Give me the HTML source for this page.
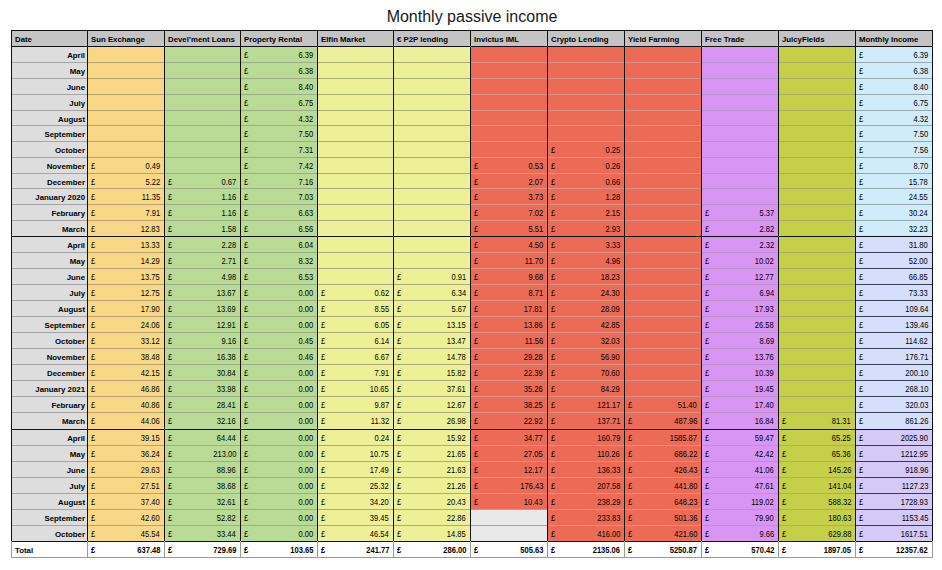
<!DOCTYPE html><html><head><meta charset="utf-8"><title>Monthly passive income</title><style>
html,body{margin:0;padding:0;background:#fff;}
body{width:942px;height:570px;position:relative;overflow:hidden;font-family:"Liberation Sans",Arial,Helvetica,sans-serif;}
.t{position:absolute;left:0;top:7px;width:944px;text-align:center;font-size:16px;color:#1a1a1a;line-height:20px;}
.c{position:absolute;box-sizing:border-box;}
.h{position:absolute;height:1px;}
.v{position:absolute;width:1px;}
.tx{position:absolute;font-size:7.8px;line-height:10px;white-space:nowrap;color:#000;}
.b{font-weight:bold;}
.m{font-size:7.85px;}
.n{font-size:8.3px;transform:scaleX(0.91);transform-origin:100% 50%;margin-top:-1px;}
.p{font-size:8.3px;transform:scaleX(0.91);transform-origin:0 50%;margin-top:-1px;}

</style></head><body>
<div class="t">Monthly passive income</div>
<div class="c" style="left:11px;top:30px;width:922px;height:16px;background:#c4c4c4"></div>
<div class="c" style="left:11px;top:46px;width:76px;height:495px;background:#dddddd"></div>
<div class="c" style="left:87px;top:46px;width:77px;height:495px;background:#f8d786"></div>
<div class="c" style="left:164px;top:46px;width:76px;height:495px;background:#badb96"></div>
<div class="c" style="left:240px;top:46px;width:77px;height:495px;background:#badb96"></div>
<div class="c" style="left:317px;top:46px;width:76px;height:495px;background:#edf096"></div>
<div class="c" style="left:393px;top:46px;width:77px;height:495px;background:#edf096"></div>
<div class="c" style="left:470px;top:46px;width:77px;height:495px;background:#eb6b56"></div>
<div class="c" style="left:547px;top:46px;width:77px;height:495px;background:#eb6b56"></div>
<div class="c" style="left:624px;top:46px;width:77px;height:495px;background:#eb6b56"></div>
<div class="c" style="left:701px;top:46px;width:77px;height:495px;background:#d895f4"></div>
<div class="c" style="left:778px;top:46px;width:77px;height:495px;background:#c6cf4a"></div>
<div class="c" style="left:855px;top:46px;width:77px;height:190px;background:#d0ebfa"></div>
<div class="c" style="left:855px;top:236px;width:77px;height:193px;background:#d5defa"></div>
<div class="c" style="left:855px;top:429px;width:77px;height:112px;background:#d5c9f8"></div>
<div class="c" style="left:470px;top:509px;width:77px;height:32px;background:#e9e9e9"></div>
<div class="h" style="left:11px;top:62px;width:76px;background:#a5a5a5"></div>
<div class="h" style="left:87px;top:62px;width:77px;background:#b8a574"></div>
<div class="h" style="left:164px;top:62px;width:76px;background:#9cb086"></div>
<div class="h" style="left:240px;top:62px;width:77px;background:#9cb086"></div>
<div class="h" style="left:317px;top:62px;width:76px;background:#aaac76"></div>
<div class="h" style="left:393px;top:62px;width:77px;background:#aaac76"></div>
<div class="h" style="left:470px;top:62px;width:77px;background:#dc8f83"></div>
<div class="h" style="left:547px;top:62px;width:77px;background:#dc8f83"></div>
<div class="h" style="left:624px;top:62px;width:77px;background:#dc8f83"></div>
<div class="h" style="left:701px;top:62px;width:77px;background:#bb92cb"></div>
<div class="h" style="left:778px;top:62px;width:77px;background:#aab060"></div>
<div class="h" style="left:855px;top:62px;width:77px;background:#99a9b2"></div>
<div class="h" style="left:11px;top:78px;width:76px;background:#a5a5a5"></div>
<div class="h" style="left:87px;top:78px;width:77px;background:#b8a574"></div>
<div class="h" style="left:164px;top:78px;width:76px;background:#9cb086"></div>
<div class="h" style="left:240px;top:78px;width:77px;background:#9cb086"></div>
<div class="h" style="left:317px;top:78px;width:76px;background:#aaac76"></div>
<div class="h" style="left:393px;top:78px;width:77px;background:#aaac76"></div>
<div class="h" style="left:470px;top:78px;width:77px;background:#dc8f83"></div>
<div class="h" style="left:547px;top:78px;width:77px;background:#dc8f83"></div>
<div class="h" style="left:624px;top:78px;width:77px;background:#dc8f83"></div>
<div class="h" style="left:701px;top:78px;width:77px;background:#bb92cb"></div>
<div class="h" style="left:778px;top:78px;width:77px;background:#aab060"></div>
<div class="h" style="left:855px;top:78px;width:77px;background:#99a9b2"></div>
<div class="h" style="left:11px;top:94px;width:76px;background:#a5a5a5"></div>
<div class="h" style="left:87px;top:94px;width:77px;background:#b8a574"></div>
<div class="h" style="left:164px;top:94px;width:76px;background:#9cb086"></div>
<div class="h" style="left:240px;top:94px;width:77px;background:#9cb086"></div>
<div class="h" style="left:317px;top:94px;width:76px;background:#aaac76"></div>
<div class="h" style="left:393px;top:94px;width:77px;background:#aaac76"></div>
<div class="h" style="left:470px;top:94px;width:77px;background:#dc8f83"></div>
<div class="h" style="left:547px;top:94px;width:77px;background:#dc8f83"></div>
<div class="h" style="left:624px;top:94px;width:77px;background:#dc8f83"></div>
<div class="h" style="left:701px;top:94px;width:77px;background:#bb92cb"></div>
<div class="h" style="left:778px;top:94px;width:77px;background:#aab060"></div>
<div class="h" style="left:855px;top:94px;width:77px;background:#99a9b2"></div>
<div class="h" style="left:11px;top:110px;width:76px;background:#a5a5a5"></div>
<div class="h" style="left:87px;top:110px;width:77px;background:#b8a574"></div>
<div class="h" style="left:164px;top:110px;width:76px;background:#9cb086"></div>
<div class="h" style="left:240px;top:110px;width:77px;background:#9cb086"></div>
<div class="h" style="left:317px;top:110px;width:76px;background:#aaac76"></div>
<div class="h" style="left:393px;top:110px;width:77px;background:#aaac76"></div>
<div class="h" style="left:470px;top:110px;width:77px;background:#dc8f83"></div>
<div class="h" style="left:547px;top:110px;width:77px;background:#dc8f83"></div>
<div class="h" style="left:624px;top:110px;width:77px;background:#dc8f83"></div>
<div class="h" style="left:701px;top:110px;width:77px;background:#bb92cb"></div>
<div class="h" style="left:778px;top:110px;width:77px;background:#aab060"></div>
<div class="h" style="left:855px;top:110px;width:77px;background:#99a9b2"></div>
<div class="h" style="left:11px;top:125px;width:76px;background:#a5a5a5"></div>
<div class="h" style="left:87px;top:125px;width:77px;background:#b8a574"></div>
<div class="h" style="left:164px;top:125px;width:76px;background:#9cb086"></div>
<div class="h" style="left:240px;top:125px;width:77px;background:#9cb086"></div>
<div class="h" style="left:317px;top:125px;width:76px;background:#aaac76"></div>
<div class="h" style="left:393px;top:125px;width:77px;background:#aaac76"></div>
<div class="h" style="left:470px;top:125px;width:77px;background:#dc8f83"></div>
<div class="h" style="left:547px;top:125px;width:77px;background:#dc8f83"></div>
<div class="h" style="left:624px;top:125px;width:77px;background:#dc8f83"></div>
<div class="h" style="left:701px;top:125px;width:77px;background:#bb92cb"></div>
<div class="h" style="left:778px;top:125px;width:77px;background:#aab060"></div>
<div class="h" style="left:855px;top:125px;width:77px;background:#99a9b2"></div>
<div class="h" style="left:11px;top:141px;width:76px;background:#a5a5a5"></div>
<div class="h" style="left:87px;top:141px;width:77px;background:#b8a574"></div>
<div class="h" style="left:164px;top:141px;width:76px;background:#9cb086"></div>
<div class="h" style="left:240px;top:141px;width:77px;background:#9cb086"></div>
<div class="h" style="left:317px;top:141px;width:76px;background:#aaac76"></div>
<div class="h" style="left:393px;top:141px;width:77px;background:#aaac76"></div>
<div class="h" style="left:470px;top:141px;width:77px;background:#dc8f83"></div>
<div class="h" style="left:547px;top:141px;width:77px;background:#dc8f83"></div>
<div class="h" style="left:624px;top:141px;width:77px;background:#dc8f83"></div>
<div class="h" style="left:701px;top:141px;width:77px;background:#bb92cb"></div>
<div class="h" style="left:778px;top:141px;width:77px;background:#aab060"></div>
<div class="h" style="left:855px;top:141px;width:77px;background:#99a9b2"></div>
<div class="h" style="left:11px;top:157px;width:76px;background:#a5a5a5"></div>
<div class="h" style="left:87px;top:157px;width:77px;background:#b8a574"></div>
<div class="h" style="left:164px;top:157px;width:76px;background:#9cb086"></div>
<div class="h" style="left:240px;top:157px;width:77px;background:#9cb086"></div>
<div class="h" style="left:317px;top:157px;width:76px;background:#aaac76"></div>
<div class="h" style="left:393px;top:157px;width:77px;background:#aaac76"></div>
<div class="h" style="left:470px;top:157px;width:77px;background:#dc8f83"></div>
<div class="h" style="left:547px;top:157px;width:77px;background:#dc8f83"></div>
<div class="h" style="left:624px;top:157px;width:77px;background:#dc8f83"></div>
<div class="h" style="left:701px;top:157px;width:77px;background:#bb92cb"></div>
<div class="h" style="left:778px;top:157px;width:77px;background:#aab060"></div>
<div class="h" style="left:855px;top:157px;width:77px;background:#99a9b2"></div>
<div class="h" style="left:11px;top:173px;width:76px;background:#a5a5a5"></div>
<div class="h" style="left:87px;top:173px;width:77px;background:#b8a574"></div>
<div class="h" style="left:164px;top:173px;width:76px;background:#9cb086"></div>
<div class="h" style="left:240px;top:173px;width:77px;background:#9cb086"></div>
<div class="h" style="left:317px;top:173px;width:76px;background:#aaac76"></div>
<div class="h" style="left:393px;top:173px;width:77px;background:#aaac76"></div>
<div class="h" style="left:470px;top:173px;width:77px;background:#dc8f83"></div>
<div class="h" style="left:547px;top:173px;width:77px;background:#dc8f83"></div>
<div class="h" style="left:624px;top:173px;width:77px;background:#dc8f83"></div>
<div class="h" style="left:701px;top:173px;width:77px;background:#bb92cb"></div>
<div class="h" style="left:778px;top:173px;width:77px;background:#aab060"></div>
<div class="h" style="left:855px;top:173px;width:77px;background:#99a9b2"></div>
<div class="h" style="left:11px;top:188px;width:76px;background:#a5a5a5"></div>
<div class="h" style="left:87px;top:188px;width:77px;background:#b8a574"></div>
<div class="h" style="left:164px;top:188px;width:76px;background:#9cb086"></div>
<div class="h" style="left:240px;top:188px;width:77px;background:#9cb086"></div>
<div class="h" style="left:317px;top:188px;width:76px;background:#aaac76"></div>
<div class="h" style="left:393px;top:188px;width:77px;background:#aaac76"></div>
<div class="h" style="left:470px;top:188px;width:77px;background:#dc8f83"></div>
<div class="h" style="left:547px;top:188px;width:77px;background:#dc8f83"></div>
<div class="h" style="left:624px;top:188px;width:77px;background:#dc8f83"></div>
<div class="h" style="left:701px;top:188px;width:77px;background:#bb92cb"></div>
<div class="h" style="left:778px;top:188px;width:77px;background:#aab060"></div>
<div class="h" style="left:855px;top:188px;width:77px;background:#99a9b2"></div>
<div class="h" style="left:11px;top:204px;width:76px;background:#a5a5a5"></div>
<div class="h" style="left:87px;top:204px;width:77px;background:#b8a574"></div>
<div class="h" style="left:164px;top:204px;width:76px;background:#9cb086"></div>
<div class="h" style="left:240px;top:204px;width:77px;background:#9cb086"></div>
<div class="h" style="left:317px;top:204px;width:76px;background:#aaac76"></div>
<div class="h" style="left:393px;top:204px;width:77px;background:#aaac76"></div>
<div class="h" style="left:470px;top:204px;width:77px;background:#dc8f83"></div>
<div class="h" style="left:547px;top:204px;width:77px;background:#dc8f83"></div>
<div class="h" style="left:624px;top:204px;width:77px;background:#dc8f83"></div>
<div class="h" style="left:701px;top:204px;width:77px;background:#bb92cb"></div>
<div class="h" style="left:778px;top:204px;width:77px;background:#aab060"></div>
<div class="h" style="left:855px;top:204px;width:77px;background:#99a9b2"></div>
<div class="h" style="left:11px;top:220px;width:76px;background:#a5a5a5"></div>
<div class="h" style="left:87px;top:220px;width:77px;background:#b8a574"></div>
<div class="h" style="left:164px;top:220px;width:76px;background:#9cb086"></div>
<div class="h" style="left:240px;top:220px;width:77px;background:#9cb086"></div>
<div class="h" style="left:317px;top:220px;width:76px;background:#aaac76"></div>
<div class="h" style="left:393px;top:220px;width:77px;background:#aaac76"></div>
<div class="h" style="left:470px;top:220px;width:77px;background:#dc8f83"></div>
<div class="h" style="left:547px;top:220px;width:77px;background:#dc8f83"></div>
<div class="h" style="left:624px;top:220px;width:77px;background:#dc8f83"></div>
<div class="h" style="left:701px;top:220px;width:77px;background:#bb92cb"></div>
<div class="h" style="left:778px;top:220px;width:77px;background:#aab060"></div>
<div class="h" style="left:855px;top:220px;width:77px;background:#99a9b2"></div>
<div class="h" style="left:11px;top:252px;width:76px;background:#a5a5a5"></div>
<div class="h" style="left:87px;top:252px;width:77px;background:#b8a574"></div>
<div class="h" style="left:164px;top:252px;width:76px;background:#9cb086"></div>
<div class="h" style="left:240px;top:252px;width:77px;background:#9cb086"></div>
<div class="h" style="left:317px;top:252px;width:76px;background:#aaac76"></div>
<div class="h" style="left:393px;top:252px;width:77px;background:#aaac76"></div>
<div class="h" style="left:470px;top:252px;width:77px;background:#dc8f83"></div>
<div class="h" style="left:547px;top:252px;width:77px;background:#dc8f83"></div>
<div class="h" style="left:624px;top:252px;width:77px;background:#dc8f83"></div>
<div class="h" style="left:701px;top:252px;width:77px;background:#bb92cb"></div>
<div class="h" style="left:778px;top:252px;width:77px;background:#aab060"></div>
<div class="h" style="left:855px;top:252px;width:77px;background:#383f52"></div>
<div class="h" style="left:11px;top:268px;width:76px;background:#a5a5a5"></div>
<div class="h" style="left:87px;top:268px;width:77px;background:#b8a574"></div>
<div class="h" style="left:164px;top:268px;width:76px;background:#9cb086"></div>
<div class="h" style="left:240px;top:268px;width:77px;background:#9cb086"></div>
<div class="h" style="left:317px;top:268px;width:76px;background:#aaac76"></div>
<div class="h" style="left:393px;top:268px;width:77px;background:#aaac76"></div>
<div class="h" style="left:470px;top:268px;width:77px;background:#dc8f83"></div>
<div class="h" style="left:547px;top:268px;width:77px;background:#dc8f83"></div>
<div class="h" style="left:624px;top:268px;width:77px;background:#dc8f83"></div>
<div class="h" style="left:701px;top:268px;width:77px;background:#bb92cb"></div>
<div class="h" style="left:778px;top:268px;width:77px;background:#aab060"></div>
<div class="h" style="left:855px;top:268px;width:77px;background:#383f52"></div>
<div class="h" style="left:11px;top:284px;width:76px;background:#a5a5a5"></div>
<div class="h" style="left:87px;top:284px;width:77px;background:#b8a574"></div>
<div class="h" style="left:164px;top:284px;width:76px;background:#9cb086"></div>
<div class="h" style="left:240px;top:284px;width:77px;background:#9cb086"></div>
<div class="h" style="left:317px;top:284px;width:76px;background:#aaac76"></div>
<div class="h" style="left:393px;top:284px;width:77px;background:#aaac76"></div>
<div class="h" style="left:470px;top:284px;width:77px;background:#dc8f83"></div>
<div class="h" style="left:547px;top:284px;width:77px;background:#dc8f83"></div>
<div class="h" style="left:624px;top:284px;width:77px;background:#dc8f83"></div>
<div class="h" style="left:701px;top:284px;width:77px;background:#bb92cb"></div>
<div class="h" style="left:778px;top:284px;width:77px;background:#aab060"></div>
<div class="h" style="left:855px;top:284px;width:77px;background:#383f52"></div>
<div class="h" style="left:11px;top:300px;width:76px;background:#a5a5a5"></div>
<div class="h" style="left:87px;top:300px;width:77px;background:#b8a574"></div>
<div class="h" style="left:164px;top:300px;width:76px;background:#9cb086"></div>
<div class="h" style="left:240px;top:300px;width:77px;background:#9cb086"></div>
<div class="h" style="left:317px;top:300px;width:76px;background:#aaac76"></div>
<div class="h" style="left:393px;top:300px;width:77px;background:#aaac76"></div>
<div class="h" style="left:470px;top:300px;width:77px;background:#dc8f83"></div>
<div class="h" style="left:547px;top:300px;width:77px;background:#dc8f83"></div>
<div class="h" style="left:624px;top:300px;width:77px;background:#dc8f83"></div>
<div class="h" style="left:701px;top:300px;width:77px;background:#bb92cb"></div>
<div class="h" style="left:778px;top:300px;width:77px;background:#aab060"></div>
<div class="h" style="left:855px;top:300px;width:77px;background:#383f52"></div>
<div class="h" style="left:11px;top:316px;width:76px;background:#a5a5a5"></div>
<div class="h" style="left:87px;top:316px;width:77px;background:#b8a574"></div>
<div class="h" style="left:164px;top:316px;width:76px;background:#9cb086"></div>
<div class="h" style="left:240px;top:316px;width:77px;background:#9cb086"></div>
<div class="h" style="left:317px;top:316px;width:76px;background:#aaac76"></div>
<div class="h" style="left:393px;top:316px;width:77px;background:#aaac76"></div>
<div class="h" style="left:470px;top:316px;width:77px;background:#dc8f83"></div>
<div class="h" style="left:547px;top:316px;width:77px;background:#dc8f83"></div>
<div class="h" style="left:624px;top:316px;width:77px;background:#dc8f83"></div>
<div class="h" style="left:701px;top:316px;width:77px;background:#bb92cb"></div>
<div class="h" style="left:778px;top:316px;width:77px;background:#aab060"></div>
<div class="h" style="left:855px;top:316px;width:77px;background:#383f52"></div>
<div class="h" style="left:11px;top:332px;width:76px;background:#a5a5a5"></div>
<div class="h" style="left:87px;top:332px;width:77px;background:#b8a574"></div>
<div class="h" style="left:164px;top:332px;width:76px;background:#9cb086"></div>
<div class="h" style="left:240px;top:332px;width:77px;background:#9cb086"></div>
<div class="h" style="left:317px;top:332px;width:76px;background:#aaac76"></div>
<div class="h" style="left:393px;top:332px;width:77px;background:#aaac76"></div>
<div class="h" style="left:470px;top:332px;width:77px;background:#dc8f83"></div>
<div class="h" style="left:547px;top:332px;width:77px;background:#dc8f83"></div>
<div class="h" style="left:624px;top:332px;width:77px;background:#dc8f83"></div>
<div class="h" style="left:701px;top:332px;width:77px;background:#bb92cb"></div>
<div class="h" style="left:778px;top:332px;width:77px;background:#aab060"></div>
<div class="h" style="left:855px;top:332px;width:77px;background:#383f52"></div>
<div class="h" style="left:11px;top:348px;width:76px;background:#a5a5a5"></div>
<div class="h" style="left:87px;top:348px;width:77px;background:#b8a574"></div>
<div class="h" style="left:164px;top:348px;width:76px;background:#9cb086"></div>
<div class="h" style="left:240px;top:348px;width:77px;background:#9cb086"></div>
<div class="h" style="left:317px;top:348px;width:76px;background:#aaac76"></div>
<div class="h" style="left:393px;top:348px;width:77px;background:#aaac76"></div>
<div class="h" style="left:470px;top:348px;width:77px;background:#dc8f83"></div>
<div class="h" style="left:547px;top:348px;width:77px;background:#dc8f83"></div>
<div class="h" style="left:624px;top:348px;width:77px;background:#dc8f83"></div>
<div class="h" style="left:701px;top:348px;width:77px;background:#bb92cb"></div>
<div class="h" style="left:778px;top:348px;width:77px;background:#aab060"></div>
<div class="h" style="left:855px;top:348px;width:77px;background:#383f52"></div>
<div class="h" style="left:11px;top:364px;width:76px;background:#a5a5a5"></div>
<div class="h" style="left:87px;top:364px;width:77px;background:#b8a574"></div>
<div class="h" style="left:164px;top:364px;width:76px;background:#9cb086"></div>
<div class="h" style="left:240px;top:364px;width:77px;background:#9cb086"></div>
<div class="h" style="left:317px;top:364px;width:76px;background:#aaac76"></div>
<div class="h" style="left:393px;top:364px;width:77px;background:#aaac76"></div>
<div class="h" style="left:470px;top:364px;width:77px;background:#dc8f83"></div>
<div class="h" style="left:547px;top:364px;width:77px;background:#dc8f83"></div>
<div class="h" style="left:624px;top:364px;width:77px;background:#dc8f83"></div>
<div class="h" style="left:701px;top:364px;width:77px;background:#bb92cb"></div>
<div class="h" style="left:778px;top:364px;width:77px;background:#aab060"></div>
<div class="h" style="left:855px;top:364px;width:77px;background:#383f52"></div>
<div class="h" style="left:11px;top:380px;width:76px;background:#a5a5a5"></div>
<div class="h" style="left:87px;top:380px;width:77px;background:#b8a574"></div>
<div class="h" style="left:164px;top:380px;width:76px;background:#9cb086"></div>
<div class="h" style="left:240px;top:380px;width:77px;background:#9cb086"></div>
<div class="h" style="left:317px;top:380px;width:76px;background:#aaac76"></div>
<div class="h" style="left:393px;top:380px;width:77px;background:#aaac76"></div>
<div class="h" style="left:470px;top:380px;width:77px;background:#dc8f83"></div>
<div class="h" style="left:547px;top:380px;width:77px;background:#dc8f83"></div>
<div class="h" style="left:624px;top:380px;width:77px;background:#dc8f83"></div>
<div class="h" style="left:701px;top:380px;width:77px;background:#bb92cb"></div>
<div class="h" style="left:778px;top:380px;width:77px;background:#aab060"></div>
<div class="h" style="left:855px;top:380px;width:77px;background:#383f52"></div>
<div class="h" style="left:11px;top:396px;width:76px;background:#a5a5a5"></div>
<div class="h" style="left:87px;top:396px;width:77px;background:#b8a574"></div>
<div class="h" style="left:164px;top:396px;width:76px;background:#9cb086"></div>
<div class="h" style="left:240px;top:396px;width:77px;background:#9cb086"></div>
<div class="h" style="left:317px;top:396px;width:76px;background:#aaac76"></div>
<div class="h" style="left:393px;top:396px;width:77px;background:#aaac76"></div>
<div class="h" style="left:470px;top:396px;width:77px;background:#dc8f83"></div>
<div class="h" style="left:547px;top:396px;width:77px;background:#dc8f83"></div>
<div class="h" style="left:624px;top:396px;width:77px;background:#dc8f83"></div>
<div class="h" style="left:701px;top:396px;width:77px;background:#bb92cb"></div>
<div class="h" style="left:778px;top:396px;width:77px;background:#aab060"></div>
<div class="h" style="left:855px;top:396px;width:77px;background:#383f52"></div>
<div class="h" style="left:11px;top:412px;width:76px;background:#a5a5a5"></div>
<div class="h" style="left:87px;top:412px;width:77px;background:#b8a574"></div>
<div class="h" style="left:164px;top:412px;width:76px;background:#9cb086"></div>
<div class="h" style="left:240px;top:412px;width:77px;background:#9cb086"></div>
<div class="h" style="left:317px;top:412px;width:76px;background:#aaac76"></div>
<div class="h" style="left:393px;top:412px;width:77px;background:#aaac76"></div>
<div class="h" style="left:470px;top:412px;width:77px;background:#dc8f83"></div>
<div class="h" style="left:547px;top:412px;width:77px;background:#dc8f83"></div>
<div class="h" style="left:624px;top:412px;width:77px;background:#dc8f83"></div>
<div class="h" style="left:701px;top:412px;width:77px;background:#bb92cb"></div>
<div class="h" style="left:778px;top:412px;width:77px;background:#aab060"></div>
<div class="h" style="left:855px;top:412px;width:77px;background:#383f52"></div>
<div class="h" style="left:11px;top:445px;width:76px;background:#a5a5a5"></div>
<div class="h" style="left:87px;top:445px;width:77px;background:#b8a574"></div>
<div class="h" style="left:164px;top:445px;width:76px;background:#9cb086"></div>
<div class="h" style="left:240px;top:445px;width:77px;background:#9cb086"></div>
<div class="h" style="left:317px;top:445px;width:76px;background:#aaac76"></div>
<div class="h" style="left:393px;top:445px;width:77px;background:#aaac76"></div>
<div class="h" style="left:470px;top:445px;width:77px;background:#dc8f83"></div>
<div class="h" style="left:547px;top:445px;width:77px;background:#dc8f83"></div>
<div class="h" style="left:624px;top:445px;width:77px;background:#dc8f83"></div>
<div class="h" style="left:701px;top:445px;width:77px;background:#bb92cb"></div>
<div class="h" style="left:778px;top:445px;width:77px;background:#aab060"></div>
<div class="h" style="left:855px;top:445px;width:77px;background:#403658"></div>
<div class="h" style="left:11px;top:461px;width:76px;background:#a5a5a5"></div>
<div class="h" style="left:87px;top:461px;width:77px;background:#b8a574"></div>
<div class="h" style="left:164px;top:461px;width:76px;background:#9cb086"></div>
<div class="h" style="left:240px;top:461px;width:77px;background:#9cb086"></div>
<div class="h" style="left:317px;top:461px;width:76px;background:#aaac76"></div>
<div class="h" style="left:393px;top:461px;width:77px;background:#aaac76"></div>
<div class="h" style="left:470px;top:461px;width:77px;background:#dc8f83"></div>
<div class="h" style="left:547px;top:461px;width:77px;background:#dc8f83"></div>
<div class="h" style="left:624px;top:461px;width:77px;background:#dc8f83"></div>
<div class="h" style="left:701px;top:461px;width:77px;background:#bb92cb"></div>
<div class="h" style="left:778px;top:461px;width:77px;background:#aab060"></div>
<div class="h" style="left:855px;top:461px;width:77px;background:#403658"></div>
<div class="h" style="left:11px;top:477px;width:76px;background:#a5a5a5"></div>
<div class="h" style="left:87px;top:477px;width:77px;background:#b8a574"></div>
<div class="h" style="left:164px;top:477px;width:76px;background:#9cb086"></div>
<div class="h" style="left:240px;top:477px;width:77px;background:#9cb086"></div>
<div class="h" style="left:317px;top:477px;width:76px;background:#aaac76"></div>
<div class="h" style="left:393px;top:477px;width:77px;background:#aaac76"></div>
<div class="h" style="left:470px;top:477px;width:77px;background:#dc8f83"></div>
<div class="h" style="left:547px;top:477px;width:77px;background:#dc8f83"></div>
<div class="h" style="left:624px;top:477px;width:77px;background:#dc8f83"></div>
<div class="h" style="left:701px;top:477px;width:77px;background:#bb92cb"></div>
<div class="h" style="left:778px;top:477px;width:77px;background:#aab060"></div>
<div class="h" style="left:855px;top:477px;width:77px;background:#403658"></div>
<div class="h" style="left:11px;top:493px;width:76px;background:#a5a5a5"></div>
<div class="h" style="left:87px;top:493px;width:77px;background:#b8a574"></div>
<div class="h" style="left:164px;top:493px;width:76px;background:#9cb086"></div>
<div class="h" style="left:240px;top:493px;width:77px;background:#9cb086"></div>
<div class="h" style="left:317px;top:493px;width:76px;background:#aaac76"></div>
<div class="h" style="left:393px;top:493px;width:77px;background:#aaac76"></div>
<div class="h" style="left:470px;top:493px;width:77px;background:#dc8f83"></div>
<div class="h" style="left:547px;top:493px;width:77px;background:#dc8f83"></div>
<div class="h" style="left:624px;top:493px;width:77px;background:#dc8f83"></div>
<div class="h" style="left:701px;top:493px;width:77px;background:#bb92cb"></div>
<div class="h" style="left:778px;top:493px;width:77px;background:#aab060"></div>
<div class="h" style="left:855px;top:493px;width:77px;background:#403658"></div>
<div class="h" style="left:11px;top:509px;width:76px;background:#a5a5a5"></div>
<div class="h" style="left:87px;top:509px;width:77px;background:#b8a574"></div>
<div class="h" style="left:164px;top:509px;width:76px;background:#9cb086"></div>
<div class="h" style="left:240px;top:509px;width:77px;background:#9cb086"></div>
<div class="h" style="left:317px;top:509px;width:76px;background:#aaac76"></div>
<div class="h" style="left:393px;top:509px;width:77px;background:#aaac76"></div>
<div class="h" style="left:470px;top:509px;width:77px;background:#a5a5a5"></div>
<div class="h" style="left:547px;top:509px;width:77px;background:#dc8f83"></div>
<div class="h" style="left:624px;top:509px;width:77px;background:#dc8f83"></div>
<div class="h" style="left:701px;top:509px;width:77px;background:#bb92cb"></div>
<div class="h" style="left:778px;top:509px;width:77px;background:#aab060"></div>
<div class="h" style="left:855px;top:509px;width:77px;background:#403658"></div>
<div class="h" style="left:11px;top:525px;width:76px;background:#a5a5a5"></div>
<div class="h" style="left:87px;top:525px;width:77px;background:#b8a574"></div>
<div class="h" style="left:164px;top:525px;width:76px;background:#9cb086"></div>
<div class="h" style="left:240px;top:525px;width:77px;background:#9cb086"></div>
<div class="h" style="left:317px;top:525px;width:76px;background:#aaac76"></div>
<div class="h" style="left:393px;top:525px;width:77px;background:#aaac76"></div>
<div class="h" style="left:470px;top:525px;width:77px;background:#a5a5a5"></div>
<div class="h" style="left:547px;top:525px;width:77px;background:#dc8f83"></div>
<div class="h" style="left:624px;top:525px;width:77px;background:#dc8f83"></div>
<div class="h" style="left:701px;top:525px;width:77px;background:#bb92cb"></div>
<div class="h" style="left:778px;top:525px;width:77px;background:#aab060"></div>
<div class="h" style="left:855px;top:525px;width:77px;background:#403658"></div>
<div class="h" style="left:11px;top:30px;width:922px;background:#111;height:1px"></div>
<div class="h" style="left:11px;top:46px;width:922px;background:#111;height:1px"></div>
<div class="h" style="left:11px;top:236px;width:922px;background:#111;height:1px"></div>
<div class="h" style="left:11px;top:429px;width:922px;background:#111;height:1px"></div>
<div class="h" style="left:11px;top:541px;width:922px;background:#111;height:1px"></div>
<div class="h" style="left:11px;top:557px;width:922px;background:#9a9a9a"></div>
<div class="v" style="left:11px;top:30px;height:511px;background:#111"></div>
<div class="v" style="left:11px;top:541px;height:16px;background:#9a9a9a"></div>
<div class="v" style="left:87px;top:30px;height:511px;background:#111"></div>
<div class="v" style="left:87px;top:541px;height:16px;background:#9a9a9a"></div>
<div class="v" style="left:164px;top:30px;height:511px;background:#111"></div>
<div class="v" style="left:164px;top:541px;height:16px;background:#9a9a9a"></div>
<div class="v" style="left:240px;top:30px;height:511px;background:#111"></div>
<div class="v" style="left:240px;top:541px;height:16px;background:#9a9a9a"></div>
<div class="v" style="left:317px;top:30px;height:511px;background:#111"></div>
<div class="v" style="left:317px;top:541px;height:16px;background:#9a9a9a"></div>
<div class="v" style="left:393px;top:30px;height:511px;background:#111"></div>
<div class="v" style="left:393px;top:541px;height:16px;background:#9a9a9a"></div>
<div class="v" style="left:470px;top:30px;height:511px;background:#111"></div>
<div class="v" style="left:470px;top:541px;height:16px;background:#9a9a9a"></div>
<div class="v" style="left:547px;top:30px;height:511px;background:#111"></div>
<div class="v" style="left:547px;top:541px;height:16px;background:#9a9a9a"></div>
<div class="v" style="left:624px;top:30px;height:511px;background:#111"></div>
<div class="v" style="left:624px;top:541px;height:16px;background:#9a9a9a"></div>
<div class="v" style="left:701px;top:30px;height:511px;background:#111"></div>
<div class="v" style="left:701px;top:541px;height:16px;background:#9a9a9a"></div>
<div class="v" style="left:778px;top:30px;height:511px;background:#111"></div>
<div class="v" style="left:778px;top:541px;height:16px;background:#9a9a9a"></div>
<div class="v" style="left:855px;top:30px;height:511px;background:#111"></div>
<div class="v" style="left:855px;top:541px;height:16px;background:#9a9a9a"></div>
<div class="v" style="left:932px;top:30px;height:511px;background:#111"></div>
<div class="v" style="left:932px;top:541px;height:16px;background:#9a9a9a"></div>
<div class="tx b" style="left:15px;top:35px">Date</div>
<div class="tx b" style="left:91px;top:35px">Sun Exchange</div>
<div class="tx b" style="left:168px;top:35px">Devel’ment Loans</div>
<div class="tx b" style="left:244px;top:35px">Property Rental</div>
<div class="tx b" style="left:321px;top:35px">Elfin Market</div>
<div class="tx b" style="left:397px;top:35px">€ P2P lending</div>
<div class="tx b" style="left:474px;top:35px">Invictus IML</div>
<div class="tx b" style="left:551px;top:35px">Crypto Lending</div>
<div class="tx b" style="left:628px;top:35px">Yield Farming</div>
<div class="tx b" style="left:705px;top:35px">Free Trade</div>
<div class="tx b" style="left:782px;top:35px">JuicyFields</div>
<div class="tx b" style="left:859px;top:35px">Monthly Income</div>
<div class="tx b m" style="right:857px;top:51px">April</div>
<div class="tx p" style="left:244px;top:51px">£</div>
<div class="tx n" style="right:629px;top:51px">6.39</div>
<div class="tx p" style="left:859px;top:51px">£</div>
<div class="tx n" style="right:14px;top:51px">6.39</div>
<div class="tx b m" style="right:857px;top:67px">May</div>
<div class="tx p" style="left:244px;top:67px">£</div>
<div class="tx n" style="right:629px;top:67px">6.38</div>
<div class="tx p" style="left:859px;top:67px">£</div>
<div class="tx n" style="right:14px;top:67px">6.38</div>
<div class="tx b m" style="right:857px;top:83px">June</div>
<div class="tx p" style="left:244px;top:83px">£</div>
<div class="tx n" style="right:629px;top:83px">8.40</div>
<div class="tx p" style="left:859px;top:83px">£</div>
<div class="tx n" style="right:14px;top:83px">8.40</div>
<div class="tx b m" style="right:857px;top:99px">July</div>
<div class="tx p" style="left:244px;top:99px">£</div>
<div class="tx n" style="right:629px;top:99px">6.75</div>
<div class="tx p" style="left:859px;top:99px">£</div>
<div class="tx n" style="right:14px;top:99px">6.75</div>
<div class="tx b m" style="right:857px;top:115px">August</div>
<div class="tx p" style="left:244px;top:115px">£</div>
<div class="tx n" style="right:629px;top:115px">4.32</div>
<div class="tx p" style="left:859px;top:115px">£</div>
<div class="tx n" style="right:14px;top:115px">4.32</div>
<div class="tx b m" style="right:857px;top:130px">September</div>
<div class="tx p" style="left:244px;top:130px">£</div>
<div class="tx n" style="right:629px;top:130px">7.50</div>
<div class="tx p" style="left:859px;top:130px">£</div>
<div class="tx n" style="right:14px;top:130px">7.50</div>
<div class="tx b m" style="right:857px;top:146px">October</div>
<div class="tx p" style="left:244px;top:146px">£</div>
<div class="tx n" style="right:629px;top:146px">7.31</div>
<div class="tx p" style="left:551px;top:146px">£</div>
<div class="tx n" style="right:322px;top:146px">0.25</div>
<div class="tx p" style="left:859px;top:146px">£</div>
<div class="tx n" style="right:14px;top:146px">7.56</div>
<div class="tx b m" style="right:857px;top:162px">November</div>
<div class="tx p" style="left:91px;top:162px">£</div>
<div class="tx n" style="right:782px;top:162px">0.49</div>
<div class="tx p" style="left:244px;top:162px">£</div>
<div class="tx n" style="right:629px;top:162px">7.42</div>
<div class="tx p" style="left:474px;top:162px">£</div>
<div class="tx n" style="right:399px;top:162px">0.53</div>
<div class="tx p" style="left:551px;top:162px">£</div>
<div class="tx n" style="right:322px;top:162px">0.26</div>
<div class="tx p" style="left:859px;top:162px">£</div>
<div class="tx n" style="right:14px;top:162px">8.70</div>
<div class="tx b m" style="right:857px;top:178px">December</div>
<div class="tx p" style="left:91px;top:178px">£</div>
<div class="tx n" style="right:782px;top:178px">5.22</div>
<div class="tx p" style="left:168px;top:178px">£</div>
<div class="tx n" style="right:706px;top:178px">0.67</div>
<div class="tx p" style="left:244px;top:178px">£</div>
<div class="tx n" style="right:629px;top:178px">7.16</div>
<div class="tx p" style="left:474px;top:178px">£</div>
<div class="tx n" style="right:399px;top:178px">2.07</div>
<div class="tx p" style="left:551px;top:178px">£</div>
<div class="tx n" style="right:322px;top:178px">0.66</div>
<div class="tx p" style="left:859px;top:178px">£</div>
<div class="tx n" style="right:14px;top:178px">15.78</div>
<div class="tx b m" style="right:857px;top:193px">January 2020</div>
<div class="tx p" style="left:91px;top:193px">£</div>
<div class="tx n" style="right:782px;top:193px">11.35</div>
<div class="tx p" style="left:168px;top:193px">£</div>
<div class="tx n" style="right:706px;top:193px">1.16</div>
<div class="tx p" style="left:244px;top:193px">£</div>
<div class="tx n" style="right:629px;top:193px">7.03</div>
<div class="tx p" style="left:474px;top:193px">£</div>
<div class="tx n" style="right:399px;top:193px">3.73</div>
<div class="tx p" style="left:551px;top:193px">£</div>
<div class="tx n" style="right:322px;top:193px">1.28</div>
<div class="tx p" style="left:859px;top:193px">£</div>
<div class="tx n" style="right:14px;top:193px">24.55</div>
<div class="tx b m" style="right:857px;top:209px">February</div>
<div class="tx p" style="left:91px;top:209px">£</div>
<div class="tx n" style="right:782px;top:209px">7.91</div>
<div class="tx p" style="left:168px;top:209px">£</div>
<div class="tx n" style="right:706px;top:209px">1.16</div>
<div class="tx p" style="left:244px;top:209px">£</div>
<div class="tx n" style="right:629px;top:209px">6.63</div>
<div class="tx p" style="left:474px;top:209px">£</div>
<div class="tx n" style="right:399px;top:209px">7.02</div>
<div class="tx p" style="left:551px;top:209px">£</div>
<div class="tx n" style="right:322px;top:209px">2.15</div>
<div class="tx p" style="left:705px;top:209px">£</div>
<div class="tx n" style="right:168px;top:209px">5.37</div>
<div class="tx p" style="left:859px;top:209px">£</div>
<div class="tx n" style="right:14px;top:209px">30.24</div>
<div class="tx b m" style="right:857px;top:225px">March</div>
<div class="tx p" style="left:91px;top:225px">£</div>
<div class="tx n" style="right:782px;top:225px">12.83</div>
<div class="tx p" style="left:168px;top:225px">£</div>
<div class="tx n" style="right:706px;top:225px">1.58</div>
<div class="tx p" style="left:244px;top:225px">£</div>
<div class="tx n" style="right:629px;top:225px">6.56</div>
<div class="tx p" style="left:474px;top:225px">£</div>
<div class="tx n" style="right:399px;top:225px">5.51</div>
<div class="tx p" style="left:551px;top:225px">£</div>
<div class="tx n" style="right:322px;top:225px">2.93</div>
<div class="tx p" style="left:705px;top:225px">£</div>
<div class="tx n" style="right:168px;top:225px">2.82</div>
<div class="tx p" style="left:859px;top:225px">£</div>
<div class="tx n" style="right:14px;top:225px">32.23</div>
<div class="tx b m" style="right:857px;top:241px">April</div>
<div class="tx p" style="left:91px;top:241px">£</div>
<div class="tx n" style="right:782px;top:241px">13.33</div>
<div class="tx p" style="left:168px;top:241px">£</div>
<div class="tx n" style="right:706px;top:241px">2.28</div>
<div class="tx p" style="left:244px;top:241px">£</div>
<div class="tx n" style="right:629px;top:241px">6.04</div>
<div class="tx p" style="left:474px;top:241px">£</div>
<div class="tx n" style="right:399px;top:241px">4.50</div>
<div class="tx p" style="left:551px;top:241px">£</div>
<div class="tx n" style="right:322px;top:241px">3.33</div>
<div class="tx p" style="left:705px;top:241px">£</div>
<div class="tx n" style="right:168px;top:241px">2.32</div>
<div class="tx p" style="left:859px;top:241px">£</div>
<div class="tx n" style="right:14px;top:241px">31.80</div>
<div class="tx b m" style="right:857px;top:257px">May</div>
<div class="tx p" style="left:91px;top:257px">£</div>
<div class="tx n" style="right:782px;top:257px">14.29</div>
<div class="tx p" style="left:168px;top:257px">£</div>
<div class="tx n" style="right:706px;top:257px">2.71</div>
<div class="tx p" style="left:244px;top:257px">£</div>
<div class="tx n" style="right:629px;top:257px">8.32</div>
<div class="tx p" style="left:474px;top:257px">£</div>
<div class="tx n" style="right:399px;top:257px">11.70</div>
<div class="tx p" style="left:551px;top:257px">£</div>
<div class="tx n" style="right:322px;top:257px">4.96</div>
<div class="tx p" style="left:705px;top:257px">£</div>
<div class="tx n" style="right:168px;top:257px">10.02</div>
<div class="tx p" style="left:859px;top:257px">£</div>
<div class="tx n" style="right:14px;top:257px">52.00</div>
<div class="tx b m" style="right:857px;top:273px">June</div>
<div class="tx p" style="left:91px;top:273px">£</div>
<div class="tx n" style="right:782px;top:273px">13.75</div>
<div class="tx p" style="left:168px;top:273px">£</div>
<div class="tx n" style="right:706px;top:273px">4.98</div>
<div class="tx p" style="left:244px;top:273px">£</div>
<div class="tx n" style="right:629px;top:273px">6.53</div>
<div class="tx p" style="left:397px;top:273px">£</div>
<div class="tx n" style="right:476px;top:273px">0.91</div>
<div class="tx p" style="left:474px;top:273px">£</div>
<div class="tx n" style="right:399px;top:273px">9.68</div>
<div class="tx p" style="left:551px;top:273px">£</div>
<div class="tx n" style="right:322px;top:273px">18.23</div>
<div class="tx p" style="left:705px;top:273px">£</div>
<div class="tx n" style="right:168px;top:273px">12.77</div>
<div class="tx p" style="left:859px;top:273px">£</div>
<div class="tx n" style="right:14px;top:273px">66.85</div>
<div class="tx b m" style="right:857px;top:289px">July</div>
<div class="tx p" style="left:91px;top:289px">£</div>
<div class="tx n" style="right:782px;top:289px">12.75</div>
<div class="tx p" style="left:168px;top:289px">£</div>
<div class="tx n" style="right:706px;top:289px">13.67</div>
<div class="tx p" style="left:244px;top:289px">£</div>
<div class="tx n" style="right:629px;top:289px">0.00</div>
<div class="tx p" style="left:321px;top:289px">£</div>
<div class="tx n" style="right:553px;top:289px">0.62</div>
<div class="tx p" style="left:397px;top:289px">£</div>
<div class="tx n" style="right:476px;top:289px">6.34</div>
<div class="tx p" style="left:474px;top:289px">£</div>
<div class="tx n" style="right:399px;top:289px">8.71</div>
<div class="tx p" style="left:551px;top:289px">£</div>
<div class="tx n" style="right:322px;top:289px">24.30</div>
<div class="tx p" style="left:705px;top:289px">£</div>
<div class="tx n" style="right:168px;top:289px">6.94</div>
<div class="tx p" style="left:859px;top:289px">£</div>
<div class="tx n" style="right:14px;top:289px">73.33</div>
<div class="tx b m" style="right:857px;top:305px">August</div>
<div class="tx p" style="left:91px;top:305px">£</div>
<div class="tx n" style="right:782px;top:305px">17.90</div>
<div class="tx p" style="left:168px;top:305px">£</div>
<div class="tx n" style="right:706px;top:305px">13.69</div>
<div class="tx p" style="left:244px;top:305px">£</div>
<div class="tx n" style="right:629px;top:305px">0.00</div>
<div class="tx p" style="left:321px;top:305px">£</div>
<div class="tx n" style="right:553px;top:305px">8.55</div>
<div class="tx p" style="left:397px;top:305px">£</div>
<div class="tx n" style="right:476px;top:305px">5.67</div>
<div class="tx p" style="left:474px;top:305px">£</div>
<div class="tx n" style="right:399px;top:305px">17.81</div>
<div class="tx p" style="left:551px;top:305px">£</div>
<div class="tx n" style="right:322px;top:305px">28.09</div>
<div class="tx p" style="left:705px;top:305px">£</div>
<div class="tx n" style="right:168px;top:305px">17.93</div>
<div class="tx p" style="left:859px;top:305px">£</div>
<div class="tx n" style="right:14px;top:305px">109.64</div>
<div class="tx b m" style="right:857px;top:321px">September</div>
<div class="tx p" style="left:91px;top:321px">£</div>
<div class="tx n" style="right:782px;top:321px">24.06</div>
<div class="tx p" style="left:168px;top:321px">£</div>
<div class="tx n" style="right:706px;top:321px">12.91</div>
<div class="tx p" style="left:244px;top:321px">£</div>
<div class="tx n" style="right:629px;top:321px">0.00</div>
<div class="tx p" style="left:321px;top:321px">£</div>
<div class="tx n" style="right:553px;top:321px">6.05</div>
<div class="tx p" style="left:397px;top:321px">£</div>
<div class="tx n" style="right:476px;top:321px">13.15</div>
<div class="tx p" style="left:474px;top:321px">£</div>
<div class="tx n" style="right:399px;top:321px">13.86</div>
<div class="tx p" style="left:551px;top:321px">£</div>
<div class="tx n" style="right:322px;top:321px">42.85</div>
<div class="tx p" style="left:705px;top:321px">£</div>
<div class="tx n" style="right:168px;top:321px">26.58</div>
<div class="tx p" style="left:859px;top:321px">£</div>
<div class="tx n" style="right:14px;top:321px">139.46</div>
<div class="tx b m" style="right:857px;top:337px">October</div>
<div class="tx p" style="left:91px;top:337px">£</div>
<div class="tx n" style="right:782px;top:337px">33.12</div>
<div class="tx p" style="left:168px;top:337px">£</div>
<div class="tx n" style="right:706px;top:337px">9.16</div>
<div class="tx p" style="left:244px;top:337px">£</div>
<div class="tx n" style="right:629px;top:337px">0.45</div>
<div class="tx p" style="left:321px;top:337px">£</div>
<div class="tx n" style="right:553px;top:337px">6.14</div>
<div class="tx p" style="left:397px;top:337px">£</div>
<div class="tx n" style="right:476px;top:337px">13.47</div>
<div class="tx p" style="left:474px;top:337px">£</div>
<div class="tx n" style="right:399px;top:337px">11.56</div>
<div class="tx p" style="left:551px;top:337px">£</div>
<div class="tx n" style="right:322px;top:337px">32.03</div>
<div class="tx p" style="left:705px;top:337px">£</div>
<div class="tx n" style="right:168px;top:337px">8.69</div>
<div class="tx p" style="left:859px;top:337px">£</div>
<div class="tx n" style="right:14px;top:337px">114.62</div>
<div class="tx b m" style="right:857px;top:353px">November</div>
<div class="tx p" style="left:91px;top:353px">£</div>
<div class="tx n" style="right:782px;top:353px">38.48</div>
<div class="tx p" style="left:168px;top:353px">£</div>
<div class="tx n" style="right:706px;top:353px">16.38</div>
<div class="tx p" style="left:244px;top:353px">£</div>
<div class="tx n" style="right:629px;top:353px">0.46</div>
<div class="tx p" style="left:321px;top:353px">£</div>
<div class="tx n" style="right:553px;top:353px">6.67</div>
<div class="tx p" style="left:397px;top:353px">£</div>
<div class="tx n" style="right:476px;top:353px">14.78</div>
<div class="tx p" style="left:474px;top:353px">£</div>
<div class="tx n" style="right:399px;top:353px">29.28</div>
<div class="tx p" style="left:551px;top:353px">£</div>
<div class="tx n" style="right:322px;top:353px">56.90</div>
<div class="tx p" style="left:705px;top:353px">£</div>
<div class="tx n" style="right:168px;top:353px">13.76</div>
<div class="tx p" style="left:859px;top:353px">£</div>
<div class="tx n" style="right:14px;top:353px">176.71</div>
<div class="tx b m" style="right:857px;top:369px">December</div>
<div class="tx p" style="left:91px;top:369px">£</div>
<div class="tx n" style="right:782px;top:369px">42.15</div>
<div class="tx p" style="left:168px;top:369px">£</div>
<div class="tx n" style="right:706px;top:369px">30.84</div>
<div class="tx p" style="left:244px;top:369px">£</div>
<div class="tx n" style="right:629px;top:369px">0.00</div>
<div class="tx p" style="left:321px;top:369px">£</div>
<div class="tx n" style="right:553px;top:369px">7.91</div>
<div class="tx p" style="left:397px;top:369px">£</div>
<div class="tx n" style="right:476px;top:369px">15.82</div>
<div class="tx p" style="left:474px;top:369px">£</div>
<div class="tx n" style="right:399px;top:369px">22.39</div>
<div class="tx p" style="left:551px;top:369px">£</div>
<div class="tx n" style="right:322px;top:369px">70.60</div>
<div class="tx p" style="left:705px;top:369px">£</div>
<div class="tx n" style="right:168px;top:369px">10.39</div>
<div class="tx p" style="left:859px;top:369px">£</div>
<div class="tx n" style="right:14px;top:369px">200.10</div>
<div class="tx b m" style="right:857px;top:385px">January 2021</div>
<div class="tx p" style="left:91px;top:385px">£</div>
<div class="tx n" style="right:782px;top:385px">46.86</div>
<div class="tx p" style="left:168px;top:385px">£</div>
<div class="tx n" style="right:706px;top:385px">33.98</div>
<div class="tx p" style="left:244px;top:385px">£</div>
<div class="tx n" style="right:629px;top:385px">0.00</div>
<div class="tx p" style="left:321px;top:385px">£</div>
<div class="tx n" style="right:553px;top:385px">10.65</div>
<div class="tx p" style="left:397px;top:385px">£</div>
<div class="tx n" style="right:476px;top:385px">37.61</div>
<div class="tx p" style="left:474px;top:385px">£</div>
<div class="tx n" style="right:399px;top:385px">35.26</div>
<div class="tx p" style="left:551px;top:385px">£</div>
<div class="tx n" style="right:322px;top:385px">84.29</div>
<div class="tx p" style="left:705px;top:385px">£</div>
<div class="tx n" style="right:168px;top:385px">19.45</div>
<div class="tx p" style="left:859px;top:385px">£</div>
<div class="tx n" style="right:14px;top:385px">268.10</div>
<div class="tx b m" style="right:857px;top:401px">February</div>
<div class="tx p" style="left:91px;top:401px">£</div>
<div class="tx n" style="right:782px;top:401px">40.86</div>
<div class="tx p" style="left:168px;top:401px">£</div>
<div class="tx n" style="right:706px;top:401px">28.41</div>
<div class="tx p" style="left:244px;top:401px">£</div>
<div class="tx n" style="right:629px;top:401px">0.00</div>
<div class="tx p" style="left:321px;top:401px">£</div>
<div class="tx n" style="right:553px;top:401px">9.87</div>
<div class="tx p" style="left:397px;top:401px">£</div>
<div class="tx n" style="right:476px;top:401px">12.67</div>
<div class="tx p" style="left:474px;top:401px">£</div>
<div class="tx n" style="right:399px;top:401px">38.25</div>
<div class="tx p" style="left:551px;top:401px">£</div>
<div class="tx n" style="right:322px;top:401px">121.17</div>
<div class="tx p" style="left:628px;top:401px">£</div>
<div class="tx n" style="right:245px;top:401px">51.40</div>
<div class="tx p" style="left:705px;top:401px">£</div>
<div class="tx n" style="right:168px;top:401px">17.40</div>
<div class="tx p" style="left:859px;top:401px">£</div>
<div class="tx n" style="right:14px;top:401px">320.03</div>
<div class="tx b m" style="right:857px;top:417px">March</div>
<div class="tx p" style="left:91px;top:417px">£</div>
<div class="tx n" style="right:782px;top:417px">44.06</div>
<div class="tx p" style="left:168px;top:417px">£</div>
<div class="tx n" style="right:706px;top:417px">32.16</div>
<div class="tx p" style="left:244px;top:417px">£</div>
<div class="tx n" style="right:629px;top:417px">0.00</div>
<div class="tx p" style="left:321px;top:417px">£</div>
<div class="tx n" style="right:553px;top:417px">11.32</div>
<div class="tx p" style="left:397px;top:417px">£</div>
<div class="tx n" style="right:476px;top:417px">26.98</div>
<div class="tx p" style="left:474px;top:417px">£</div>
<div class="tx n" style="right:399px;top:417px">22.92</div>
<div class="tx p" style="left:551px;top:417px">£</div>
<div class="tx n" style="right:322px;top:417px">137.71</div>
<div class="tx p" style="left:628px;top:417px">£</div>
<div class="tx n" style="right:245px;top:417px">487.96</div>
<div class="tx p" style="left:705px;top:417px">£</div>
<div class="tx n" style="right:168px;top:417px">16.84</div>
<div class="tx p" style="left:782px;top:417px">£</div>
<div class="tx n" style="right:91px;top:417px">81.31</div>
<div class="tx p" style="left:859px;top:417px">£</div>
<div class="tx n" style="right:14px;top:417px">861.26</div>
<div class="tx b m" style="right:857px;top:434px">April</div>
<div class="tx p" style="left:91px;top:434px">£</div>
<div class="tx n" style="right:782px;top:434px">39.15</div>
<div class="tx p" style="left:168px;top:434px">£</div>
<div class="tx n" style="right:706px;top:434px">64.44</div>
<div class="tx p" style="left:244px;top:434px">£</div>
<div class="tx n" style="right:629px;top:434px">0.00</div>
<div class="tx p" style="left:321px;top:434px">£</div>
<div class="tx n" style="right:553px;top:434px">0.24</div>
<div class="tx p" style="left:397px;top:434px">£</div>
<div class="tx n" style="right:476px;top:434px">15.92</div>
<div class="tx p" style="left:474px;top:434px">£</div>
<div class="tx n" style="right:399px;top:434px">34.77</div>
<div class="tx p" style="left:551px;top:434px">£</div>
<div class="tx n" style="right:322px;top:434px">160.79</div>
<div class="tx p" style="left:628px;top:434px">£</div>
<div class="tx n" style="right:245px;top:434px">1585.87</div>
<div class="tx p" style="left:705px;top:434px">£</div>
<div class="tx n" style="right:168px;top:434px">59.47</div>
<div class="tx p" style="left:782px;top:434px">£</div>
<div class="tx n" style="right:91px;top:434px">65.25</div>
<div class="tx p" style="left:859px;top:434px">£</div>
<div class="tx n" style="right:14px;top:434px">2025.90</div>
<div class="tx b m" style="right:857px;top:450px">May</div>
<div class="tx p" style="left:91px;top:450px">£</div>
<div class="tx n" style="right:782px;top:450px">36.24</div>
<div class="tx p" style="left:168px;top:450px">£</div>
<div class="tx n" style="right:706px;top:450px">213.00</div>
<div class="tx p" style="left:244px;top:450px">£</div>
<div class="tx n" style="right:629px;top:450px">0.00</div>
<div class="tx p" style="left:321px;top:450px">£</div>
<div class="tx n" style="right:553px;top:450px">10.75</div>
<div class="tx p" style="left:397px;top:450px">£</div>
<div class="tx n" style="right:476px;top:450px">21.65</div>
<div class="tx p" style="left:474px;top:450px">£</div>
<div class="tx n" style="right:399px;top:450px">27.05</div>
<div class="tx p" style="left:551px;top:450px">£</div>
<div class="tx n" style="right:322px;top:450px">110.26</div>
<div class="tx p" style="left:628px;top:450px">£</div>
<div class="tx n" style="right:245px;top:450px">686.22</div>
<div class="tx p" style="left:705px;top:450px">£</div>
<div class="tx n" style="right:168px;top:450px">42.42</div>
<div class="tx p" style="left:782px;top:450px">£</div>
<div class="tx n" style="right:91px;top:450px">65.36</div>
<div class="tx p" style="left:859px;top:450px">£</div>
<div class="tx n" style="right:14px;top:450px">1212.95</div>
<div class="tx b m" style="right:857px;top:466px">June</div>
<div class="tx p" style="left:91px;top:466px">£</div>
<div class="tx n" style="right:782px;top:466px">29.63</div>
<div class="tx p" style="left:168px;top:466px">£</div>
<div class="tx n" style="right:706px;top:466px">88.96</div>
<div class="tx p" style="left:244px;top:466px">£</div>
<div class="tx n" style="right:629px;top:466px">0.00</div>
<div class="tx p" style="left:321px;top:466px">£</div>
<div class="tx n" style="right:553px;top:466px">17.49</div>
<div class="tx p" style="left:397px;top:466px">£</div>
<div class="tx n" style="right:476px;top:466px">21.63</div>
<div class="tx p" style="left:474px;top:466px">£</div>
<div class="tx n" style="right:399px;top:466px">12.17</div>
<div class="tx p" style="left:551px;top:466px">£</div>
<div class="tx n" style="right:322px;top:466px">136.33</div>
<div class="tx p" style="left:628px;top:466px">£</div>
<div class="tx n" style="right:245px;top:466px">426.43</div>
<div class="tx p" style="left:705px;top:466px">£</div>
<div class="tx n" style="right:168px;top:466px">41.06</div>
<div class="tx p" style="left:782px;top:466px">£</div>
<div class="tx n" style="right:91px;top:466px">145.26</div>
<div class="tx p" style="left:859px;top:466px">£</div>
<div class="tx n" style="right:14px;top:466px">918.96</div>
<div class="tx b m" style="right:857px;top:482px">July</div>
<div class="tx p" style="left:91px;top:482px">£</div>
<div class="tx n" style="right:782px;top:482px">27.51</div>
<div class="tx p" style="left:168px;top:482px">£</div>
<div class="tx n" style="right:706px;top:482px">38.68</div>
<div class="tx p" style="left:244px;top:482px">£</div>
<div class="tx n" style="right:629px;top:482px">0.00</div>
<div class="tx p" style="left:321px;top:482px">£</div>
<div class="tx n" style="right:553px;top:482px">25.32</div>
<div class="tx p" style="left:397px;top:482px">£</div>
<div class="tx n" style="right:476px;top:482px">21.26</div>
<div class="tx p" style="left:474px;top:482px">£</div>
<div class="tx n" style="right:399px;top:482px">176.43</div>
<div class="tx p" style="left:551px;top:482px">£</div>
<div class="tx n" style="right:322px;top:482px">207.58</div>
<div class="tx p" style="left:628px;top:482px">£</div>
<div class="tx n" style="right:245px;top:482px">441.80</div>
<div class="tx p" style="left:705px;top:482px">£</div>
<div class="tx n" style="right:168px;top:482px">47.61</div>
<div class="tx p" style="left:782px;top:482px">£</div>
<div class="tx n" style="right:91px;top:482px">141.04</div>
<div class="tx p" style="left:859px;top:482px">£</div>
<div class="tx n" style="right:14px;top:482px">1127.23</div>
<div class="tx b m" style="right:857px;top:498px">August</div>
<div class="tx p" style="left:91px;top:498px">£</div>
<div class="tx n" style="right:782px;top:498px">37.40</div>
<div class="tx p" style="left:168px;top:498px">£</div>
<div class="tx n" style="right:706px;top:498px">32.61</div>
<div class="tx p" style="left:244px;top:498px">£</div>
<div class="tx n" style="right:629px;top:498px">0.00</div>
<div class="tx p" style="left:321px;top:498px">£</div>
<div class="tx n" style="right:553px;top:498px">34.20</div>
<div class="tx p" style="left:397px;top:498px">£</div>
<div class="tx n" style="right:476px;top:498px">20.43</div>
<div class="tx p" style="left:474px;top:498px">£</div>
<div class="tx n" style="right:399px;top:498px">10.43</div>
<div class="tx p" style="left:551px;top:498px">£</div>
<div class="tx n" style="right:322px;top:498px">238.29</div>
<div class="tx p" style="left:628px;top:498px">£</div>
<div class="tx n" style="right:245px;top:498px">648.23</div>
<div class="tx p" style="left:705px;top:498px">£</div>
<div class="tx n" style="right:168px;top:498px">119.02</div>
<div class="tx p" style="left:782px;top:498px">£</div>
<div class="tx n" style="right:91px;top:498px">588.32</div>
<div class="tx p" style="left:859px;top:498px">£</div>
<div class="tx n" style="right:14px;top:498px">1728.93</div>
<div class="tx b m" style="right:857px;top:514px">September</div>
<div class="tx p" style="left:91px;top:514px">£</div>
<div class="tx n" style="right:782px;top:514px">42.60</div>
<div class="tx p" style="left:168px;top:514px">£</div>
<div class="tx n" style="right:706px;top:514px">52.82</div>
<div class="tx p" style="left:244px;top:514px">£</div>
<div class="tx n" style="right:629px;top:514px">0.00</div>
<div class="tx p" style="left:321px;top:514px">£</div>
<div class="tx n" style="right:553px;top:514px">39.45</div>
<div class="tx p" style="left:397px;top:514px">£</div>
<div class="tx n" style="right:476px;top:514px">22.86</div>
<div class="tx p" style="left:551px;top:514px">£</div>
<div class="tx n" style="right:322px;top:514px">233.83</div>
<div class="tx p" style="left:628px;top:514px">£</div>
<div class="tx n" style="right:245px;top:514px">501.36</div>
<div class="tx p" style="left:705px;top:514px">£</div>
<div class="tx n" style="right:168px;top:514px">79.90</div>
<div class="tx p" style="left:782px;top:514px">£</div>
<div class="tx n" style="right:91px;top:514px">180.63</div>
<div class="tx p" style="left:859px;top:514px">£</div>
<div class="tx n" style="right:14px;top:514px">1153.45</div>
<div class="tx b m" style="right:857px;top:530px">October</div>
<div class="tx p" style="left:91px;top:530px">£</div>
<div class="tx n" style="right:782px;top:530px">45.54</div>
<div class="tx p" style="left:168px;top:530px">£</div>
<div class="tx n" style="right:706px;top:530px">33.44</div>
<div class="tx p" style="left:244px;top:530px">£</div>
<div class="tx n" style="right:629px;top:530px">0.00</div>
<div class="tx p" style="left:321px;top:530px">£</div>
<div class="tx n" style="right:553px;top:530px">46.54</div>
<div class="tx p" style="left:397px;top:530px">£</div>
<div class="tx n" style="right:476px;top:530px">14.85</div>
<div class="tx p" style="left:551px;top:530px">£</div>
<div class="tx n" style="right:322px;top:530px">416.00</div>
<div class="tx p" style="left:628px;top:530px">£</div>
<div class="tx n" style="right:245px;top:530px">421.60</div>
<div class="tx p" style="left:705px;top:530px">£</div>
<div class="tx n" style="right:168px;top:530px">9.66</div>
<div class="tx p" style="left:782px;top:530px">£</div>
<div class="tx n" style="right:91px;top:530px">629.88</div>
<div class="tx p" style="left:859px;top:530px">£</div>
<div class="tx n" style="right:14px;top:530px">1617.51</div>
<div class="tx b" style="left:15px;top:546px">Total</div>
<div class="tx b p" style="left:91px;top:546px">£</div>
<div class="tx b n" style="right:782px;top:546px">637.48</div>
<div class="tx b p" style="left:168px;top:546px">£</div>
<div class="tx b n" style="right:706px;top:546px">729.69</div>
<div class="tx b p" style="left:244px;top:546px">£</div>
<div class="tx b n" style="right:629px;top:546px">103.65</div>
<div class="tx b p" style="left:321px;top:546px">£</div>
<div class="tx b n" style="right:553px;top:546px">241.77</div>
<div class="tx b p" style="left:397px;top:546px">£</div>
<div class="tx b n" style="right:476px;top:546px">286.00</div>
<div class="tx b p" style="left:474px;top:546px">£</div>
<div class="tx b n" style="right:399px;top:546px">505.63</div>
<div class="tx b p" style="left:551px;top:546px">£</div>
<div class="tx b n" style="right:322px;top:546px">2135.06</div>
<div class="tx b p" style="left:628px;top:546px">£</div>
<div class="tx b n" style="right:245px;top:546px">5250.87</div>
<div class="tx b p" style="left:705px;top:546px">£</div>
<div class="tx b n" style="right:168px;top:546px">570.42</div>
<div class="tx b p" style="left:782px;top:546px">£</div>
<div class="tx b n" style="right:91px;top:546px">1897.05</div>
<div class="tx b p" style="left:859px;top:546px">£</div>
<div class="tx b n" style="right:14px;top:546px">12357.62</div>
</body></html>
